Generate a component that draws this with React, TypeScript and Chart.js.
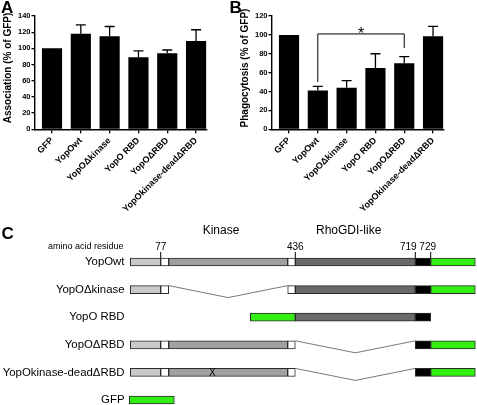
import React, { useEffect, useRef } from 'react';
import { Chart, registerables } from 'chart.js';

Chart.register(...registerables);

const FONT = '"Liberation Sans", Arial, Helvetica, sans-serif';

// ---------- Panel A / B data ----------
const categories = ['GFP', 'YopOwt', 'YopOΔkinase', 'YopO RBD', 'YopOΔRBD', 'YopOkinase-deadΔRBD'];
const associationMeans = [100, 118, 115, 89, 94, 109];
const associationErrors = [0, 11, 12, 8, 4, 14];
const associationTicks = [0, 20, 40, 60, 80, 100, 120, 140];
const phagocytosisMeans = [100, 41, 44, 65, 70, 98.5];
const phagocytosisErrors = [0, 4.5, 7.5, 15, 7, 10.5];
const phagocytosisTicks = [0, 20, 40, 60, 80, 100, 120];
const bracketGroups = [1, 4];
const bracketLevels = [101, 50, 86]; // top, left foot, right foot
const bracketLabel = '*';

// ---------- Panel C data (schematic positions) ----------
const constructs = ['YopOwt', 'YopOΔkinase', 'YopO RBD', 'YopOΔRBD', 'YopOkinase-deadΔRBD', 'GFP'];
const nTermSpans = [[0, 30.4], [0, 30.4], null, [0, 30.4], [0, 30.4], null];
const site77Spans = [[30.4, 38.4], [30.4, 38.4], null, [30.4, 38.4], [30.4, 38.4], null];
const kinaseSpans = [[38.4, 157.4], null, null, [38.4, 157.4], [38.4, 157.4], null];
const site436Spans = [[157.4, 165], [157.4, 165], null, [157.4, 165], [157.4, 165], null];
const rhoGdiSpans = [[165, 285], [165, 285], [165, 285], null, null, null];
const tailSpans = [[285, 300.4], [285, 300.4], [285, 300.4], [285, 300.4], [285, 300.4], null];
const gfpSpans = [[300.4, 345], [300.4, 345], [120, 165], [300.4, 345], [300.4, 345], [-1, 44]];
const deletionRows = [1, 3, 4];
const deletionStarts = [38.4, 165, 165];
const deletionEnds = [157.4, 285, 285];
const residueLabels = ['77', '436', '719', '729'];
const residuePositions = [30.4, 165, 285, 300.4];
const domainTitles = ['Kinase', 'RhoGDI-like'];
const domainTitlePositions = [90.7, 218.4];
const mutationRow = 4;
const mutationPosition = 82;

const PLOT_TOP = 16;
const PLOT_BOTTOM = 129.3;
const AXIS_LEFT = 34.5;
const PLOT_RIGHT = 207;
const BAR_H = 215;

function BarPanel(props: any) {
  const ref = useRef<HTMLCanvasElement>(null);
  const { left, width, means, errors, ticks, yMax, title, bracket } = props;
  useEffect(() => {
    const errorBarPlugin = {
      id: 'errorBars',
      afterDatasetsDraw(chart: any) {
        const { ctx } = chart;
        const y = chart.scales.y;
        const meta = chart.getDatasetMeta(0);
        ctx.save();
        ctx.strokeStyle = '#000';
        ctx.lineWidth = 1.3;
        meta.data.forEach((bar: any, i: number) => {
          const e = errors[i];
          if (!e) return;
          const top = y.getPixelForValue(means[i] + e);
          ctx.beginPath();
          ctx.moveTo(bar.x, bar.y);
          ctx.lineTo(bar.x, top);
          ctx.moveTo(bar.x - 5, top);
          ctx.lineTo(bar.x + 5, top);
          ctx.stroke();
        });
        ctx.restore();
      },
    };
    const titlePlugin = {
      id: 'yTitle',
      afterDraw(chart: any) {
        const { ctx } = chart;
        ctx.save();
        ctx.translate(8.5, 68);
        ctx.rotate(-Math.PI / 2);
        ctx.font = `bold 10px ${FONT}`;
        ctx.fillStyle = '#000';
        ctx.textAlign = 'center';
        ctx.textBaseline = 'middle';
        ctx.fillText(title, 0, 0);
        ctx.restore();
      },
    };
    const bracketPlugin = {
      id: 'bracket',
      afterDatasetsDraw(chart: any) {
        if (!bracket) return;
        const { ctx } = chart;
        const { x, y } = chart.scales;
        const xl = x.getPixelForValue(bracketGroups[0]);
        const xr = x.getPixelForValue(bracketGroups[1]);
        const yt = y.getPixelForValue(bracketLevels[0]);
        const yl = y.getPixelForValue(bracketLevels[1]);
        const yr = y.getPixelForValue(bracketLevels[2]);
        ctx.save();
        ctx.strokeStyle = '#000';
        ctx.lineWidth = 1;
        ctx.beginPath();
        ctx.moveTo(xl, yl);
        ctx.lineTo(xl, yt);
        ctx.lineTo(xr, yt);
        ctx.lineTo(xr, yr);
        ctx.stroke();
        ctx.font = `16px ${FONT}`;
        ctx.fillStyle = '#000';
        ctx.textAlign = 'center';
        ctx.textBaseline = 'alphabetic';
        const m = ctx.measureText(bracketLabel);
        ctx.fillText(bracketLabel, (xl + xr) / 2, yt - 1 - m.actualBoundingBoxDescent);
        ctx.restore();
      },
    };
    const chart = new Chart(ref.current as HTMLCanvasElement, {
      type: 'bar',
      data: {
        datasets: [
          {
            data: means.map((v: number, i: number) => ({ x: i, y: v })),
            backgroundColor: '#000',
            borderWidth: 0,
            barPercentage: 0.7,
            categoryPercentage: 1,
          },
        ],
      },
      options: {
        animation: false,
        responsive: false,
        events: [],
        layout: { padding: { top: PLOT_TOP, right: width - PLOT_RIGHT, left: 0, bottom: 0 } },
        plugins: { legend: { display: false }, tooltip: { enabled: false } },
        scales: {
          x: {
            type: 'linear',
            min: -0.608,
            max: 5.38,
            offset: false,
            afterBuildTicks: (s: any) => {
              s.ticks = categories.map((_, i) => ({ value: i }));
            },
            afterFit: (s: any) => {
              s.height = BAR_H - PLOT_BOTTOM;
            },
            ticks: {
              autoSkip: false,
              minRotation: 45,
              maxRotation: 45,
              padding: 2,
              color: '#000',
              font: { family: FONT, size: 9, weight: 'bold' },
              callback: (v: any) => categories[v] ?? '',
            },
            grid: { display: true, drawOnChartArea: false, drawTicks: true, tickLength: 4, color: '#000', lineWidth: 1.3, offset: false },
            border: { display: true, color: '#000', width: 1.4 },
          },
          y: {
            type: 'linear',
            min: 0,
            max: yMax,
            afterBuildTicks: (s: any) => {
              s.ticks = ticks.map((v: number) => ({ value: v }));
            },
            afterFit: (s: any) => {
              s.width = AXIS_LEFT;
            },
            ticks: { padding: 1, color: '#000', font: { family: FONT, size: 7.5, weight: 'bold' } },
            grid: { display: true, drawOnChartArea: false, drawTicks: true, tickLength: 3, color: '#000', lineWidth: 1.3 },
            border: { display: true, color: '#000', width: 1.4 },
          },
        },
      } as any,
      plugins: [errorBarPlugin, titlePlugin, bracketPlugin],
    });
    return () => chart.destroy();
  }, []);
  return (
    <canvas
      ref={ref}
      width={width}
      height={BAR_H}
      style={{ position: 'absolute', left, top: 0, width, height: BAR_H }}
    />
  );
}

function Schematic() {
  const ref = useRef<HTMLCanvasElement>(null);
  useEffect(() => {
    const segments = [
      { data: nTermSpans, color: '#c9c9c9' },
      { data: site77Spans, color: '#ffffff' },
      { data: kinaseSpans, color: '#a0a0a0' },
      { data: site436Spans, color: '#ffffff' },
      { data: rhoGdiSpans, color: '#696969' },
      { data: tailSpans, color: '#000000' },
      { data: gfpSpans, color: '#35ee14' },
    ];
    const schematicPlugin = {
      id: 'schematic',
      afterDatasetsDraw(chart: any) {
        const { ctx } = chart;
        const { x, y } = chart.scales;
        const half = 4;
        ctx.save();
        // deletion connectors
        ctx.strokeStyle = '#555';
        ctx.lineWidth = 0.8;
        deletionRows.forEach((row, k) => {
          const yc = y.getPixelForValue(row);
          const x0 = x.getPixelForValue(deletionStarts[k]);
          const x1 = x.getPixelForValue(deletionEnds[k]);
          ctx.beginPath();
          ctx.moveTo(x0, yc - half);
          ctx.lineTo((x0 + x1) / 2, yc + half + 4);
          ctx.lineTo(x1, yc - half);
          ctx.stroke();
        });
        // residue ticks
        const top0 = y.getPixelForValue(0) - half;
        ctx.strokeStyle = '#000';
        ctx.lineWidth = 1;
        ctx.fillStyle = '#000';
        ctx.font = `10px ${FONT}`;
        ctx.textAlign = 'center';
        ctx.textBaseline = 'middle';
        const dx = [0, 0, -7, -3];
        residuePositions.forEach((p, k) => {
          const px = x.getPixelForValue(p);
          ctx.beginPath();
          ctx.moveTo(px, top0 - 6);
          ctx.lineTo(px, top0);
          ctx.stroke();
          ctx.fillText(residueLabels[k], px + dx[k], top0 - 10.5);
        });
        // mutation X
        ctx.fillText('X', x.getPixelForValue(mutationPosition), y.getPixelForValue(mutationRow) + 0.5);
        // domain titles
        ctx.font = `12px ${FONT}`;
        domainTitles.forEach((t, k) => {
          ctx.fillText(t, x.getPixelForValue(domainTitlePositions[k]), 19);
        });
        // amino acid residue
        ctx.font = `9px ${FONT}`;
        ctx.textAlign = 'right';
        ctx.fillText('amino acid residue', 123.5, 35);
        ctx.restore();
      },
    };
    const chart = new Chart(ref.current as HTMLCanvasElement, {
      type: 'bar',
      data: {
        labels: constructs,
        datasets: segments.map((s) => ({
          data: s.data,
          backgroundColor: s.color,
          borderColor: '#2a2a2a',
          borderWidth: 1,
          borderSkipped: false,
          grouped: false,
          barThickness: 8,
          clip: false,
        })),
      },
      options: {
        indexAxis: 'y',
        animation: false,
        responsive: false,
        events: [],
        layout: { padding: { top: 50, bottom: 5, left: 0, right: 0 } },
        plugins: { legend: { display: false }, tooltip: { enabled: false } },
        scales: {
          x: { type: 'linear', display: false, min: -2.8, max: 346.7 },
          y: {
            type: 'category',
            offset: false,
            afterFit: (s: any) => {
              s.width = 127.5;
              s.paddingTop = 0;
              s.paddingBottom = 0;
            },
            grid: { display: false, drawTicks: false },
            border: { display: false },
            ticks: { padding: 3, color: '#000', font: { family: FONT, size: 11.4 } },
          },
        },
      } as any,
      plugins: [schematicPlugin],
    });
    return () => chart.destroy();
  }, []);
  return (
    <canvas
      ref={ref}
      width={477}
      height={193}
      style={{ position: 'absolute', left: 0, top: 212, width: 477, height: 193 }}
    />
  );
}

function Letter(props: any) {
  return (
    <div
      style={{
        position: 'absolute',
        left: props.x,
        top: props.y,
        font: `bold 17px ${FONT}`,
        lineHeight: '17px',
        color: '#000',
      }}
    >
      {props.text}
    </div>
  );
}

export default function App() {
  return (
    <div
      style={{
        position: 'fixed',
        left: 0,
        top: 0,
        width: 477,
        height: 405,
        background: '#fff',
        overflow: 'hidden',
      }}
    >
      <BarPanel
        left={0}
        width={237}
        means={associationMeans}
        errors={associationErrors}
        ticks={associationTicks}
        yMax={140}
        title="Association (% of GFP)"
        bracket={false}
      />
      <BarPanel
        left={237}
        width={240}
        means={phagocytosisMeans}
        errors={phagocytosisErrors}
        ticks={phagocytosisTicks}
        yMax={120}
        title="Phagocytosis (% of GFP)"
        bracket={true}
      />
      <Schematic />
      <Letter x={1} y={-1} text="A" />
      <Letter x={229.5} y={-1} text="B" />
      <Letter x={1.5} y={225} text="C" />
    </div>
  );
}
